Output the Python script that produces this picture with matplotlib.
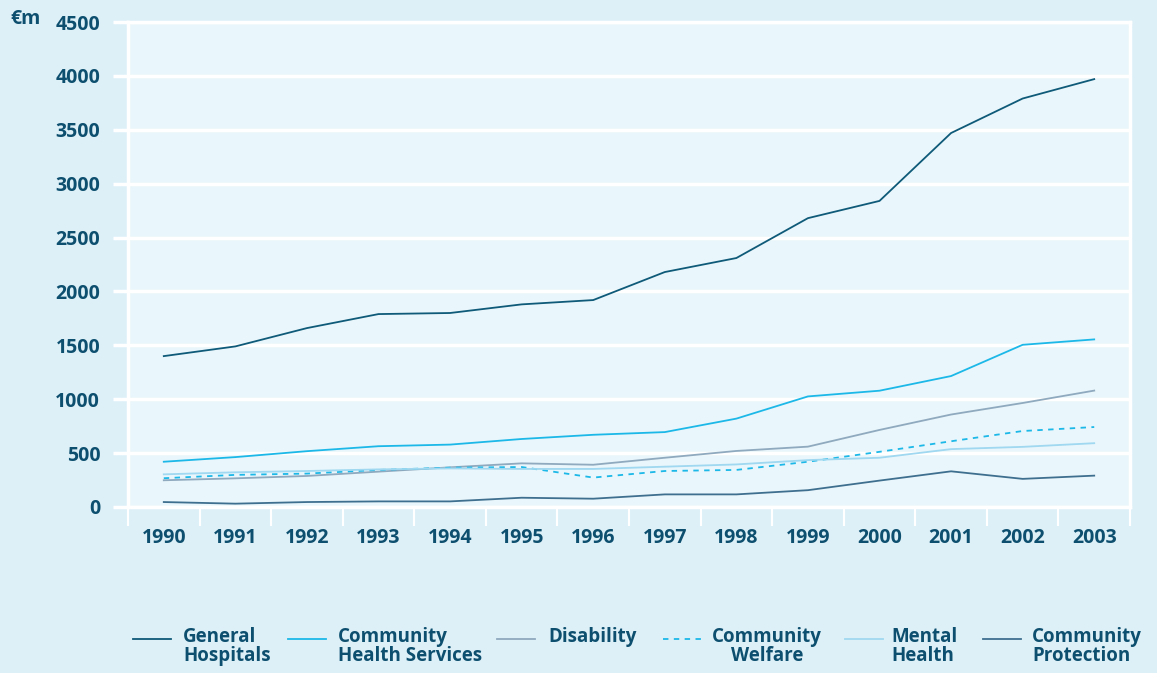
import numpy as np
import matplotlib
matplotlib.use("Agg")
import matplotlib.pyplot as plt
from matplotlib.lines import Line2D

# Gasto por programa, millones de euros
years = ["1990", "1991", "1992", "1993", "1994", "1995", "1996",
         "1997", "1998", "1999", "2000", "2001", "2002", "2003"]
general_hospitals = [1400, 1490, 1660, 1790, 1800, 1880, 1920,
                     2180, 2310, 2680, 2840, 3470, 3790, 3970]
community_health = [420, 463, 518, 564, 579, 631, 670,
                    695, 820, 1026, 1079, 1215, 1505, 1555]
disability = [248, 266, 288, 328, 368, 405, 392,
              457, 520, 560, 715, 858, 965, 1080]
community_welfare = [267, 298, 310, 344, 365, 371, 273,
                     334, 344, 420, 512, 610, 705, 742]
mental_health = [303, 322, 334, 349, 358, 353, 353,
                 374, 395, 435, 457, 537, 558, 592]
community_protection = [46, 31, 46, 52, 52, 86, 77,
                        117, 117, 156, 245, 331, 261, 291]

labels = ["General\nHospitals", "Community\nHealth Services", "Disability",
          "Community\nWelfare", "Mental\nHealth", "Community\nProtection"]
series = [general_hospitals, community_health, disability,
          community_welfare, mental_health, community_protection]
colors = ["#0e5a78", "#1cb8e8", "#8fa9be", "#1cb8e8", "#9fd8f0", "#3f6f8f"]
styles = ["-", "-", "-", "--", "-", "-"]

text_col = "#0d4f6e"
fig_bg = "#ddf0f8"
ax_bg = "#e9f6fb"

plt.rcParams["font.family"] = ["Open Sans", "DejaVu Sans"]

fig = plt.figure(figsize=(11.57, 6.73), dpi=100)
fig.patch.set_facecolor(fig_bg)
ax = fig.add_axes([128 / 1157, 1 - 507 / 673, (1130 - 128) / 1157, (507 - 22) / 673])
ax.set_facecolor(ax_bg)

x = np.arange(len(years))
for vals, col, ls in zip(series, colors, styles):
    ax.plot(x, vals, color=col, linestyle=ls, linewidth=1.3,
            dashes=(3, 3) if ls == "--" else (None, None), zorder=3)

ax.set_xlim(-0.5, len(years) - 0.5)
ax.set_ylim(0, 4500)
ax.set_yticks(np.arange(0, 4501, 500))
ax.set_yticklabels([str(v) for v in range(0, 4501, 500)])
ax.grid(axis="y", color="white", linewidth=2.5, zorder=1)
ax.set_axisbelow(True)

ax.set_xticks(x)
ax.set_xticklabels(years)
ax.set_xticks(np.arange(-0.5, len(years), 1), minor=True)
ax.tick_params(axis="x", which="major", length=0, pad=15,
               labelsize=14, labelcolor=text_col)
ax.tick_params(axis="x", which="minor", length=14, width=1.5, color="white")
ax.tick_params(axis="y", length=11, width=2.5, color="white", pad=9,
               labelsize=14, labelcolor=text_col)
for lab in ax.get_xticklabels() + ax.get_yticklabels():
    lab.set_fontweight("bold")

for side in ["left", "right", "top", "bottom"]:
    ax.spines[side].set_color("white")
    ax.spines[side].set_linewidth(2.5)

fig.text(10 / 1157, 1 - 19 / 673, "€m", fontsize=14, fontweight="bold",
         color=text_col, va="center", ha="left")

# Leyenda manual, en una fila bajo el gráfico
handle_x = [133, 288, 497, 663, 845, 983]
text_x = [183, 338, 548, 712, 891, 1032]
ly = 1 - 639 / 673
for i in range(len(labels)):
    x0 = handle_x[i] / 1157
    fig.add_artist(Line2D([x0, x0 + 38 / 1157], [ly, ly], color=colors[i],
                          linestyle=styles[i], linewidth=1.3,
                          dashes=(3, 3) if styles[i] == "--" else (None, None)))
    fig.text(text_x[i] / 1157, 1 - 627 / 673, labels[i], fontsize=13.5,
             fontweight="bold", color=text_col, va="top", ha="left",
             multialignment="center" if i == 3 else "left", linespacing=0.95)

fig.savefig("out.png", dpi=100, facecolor=fig_bg)
